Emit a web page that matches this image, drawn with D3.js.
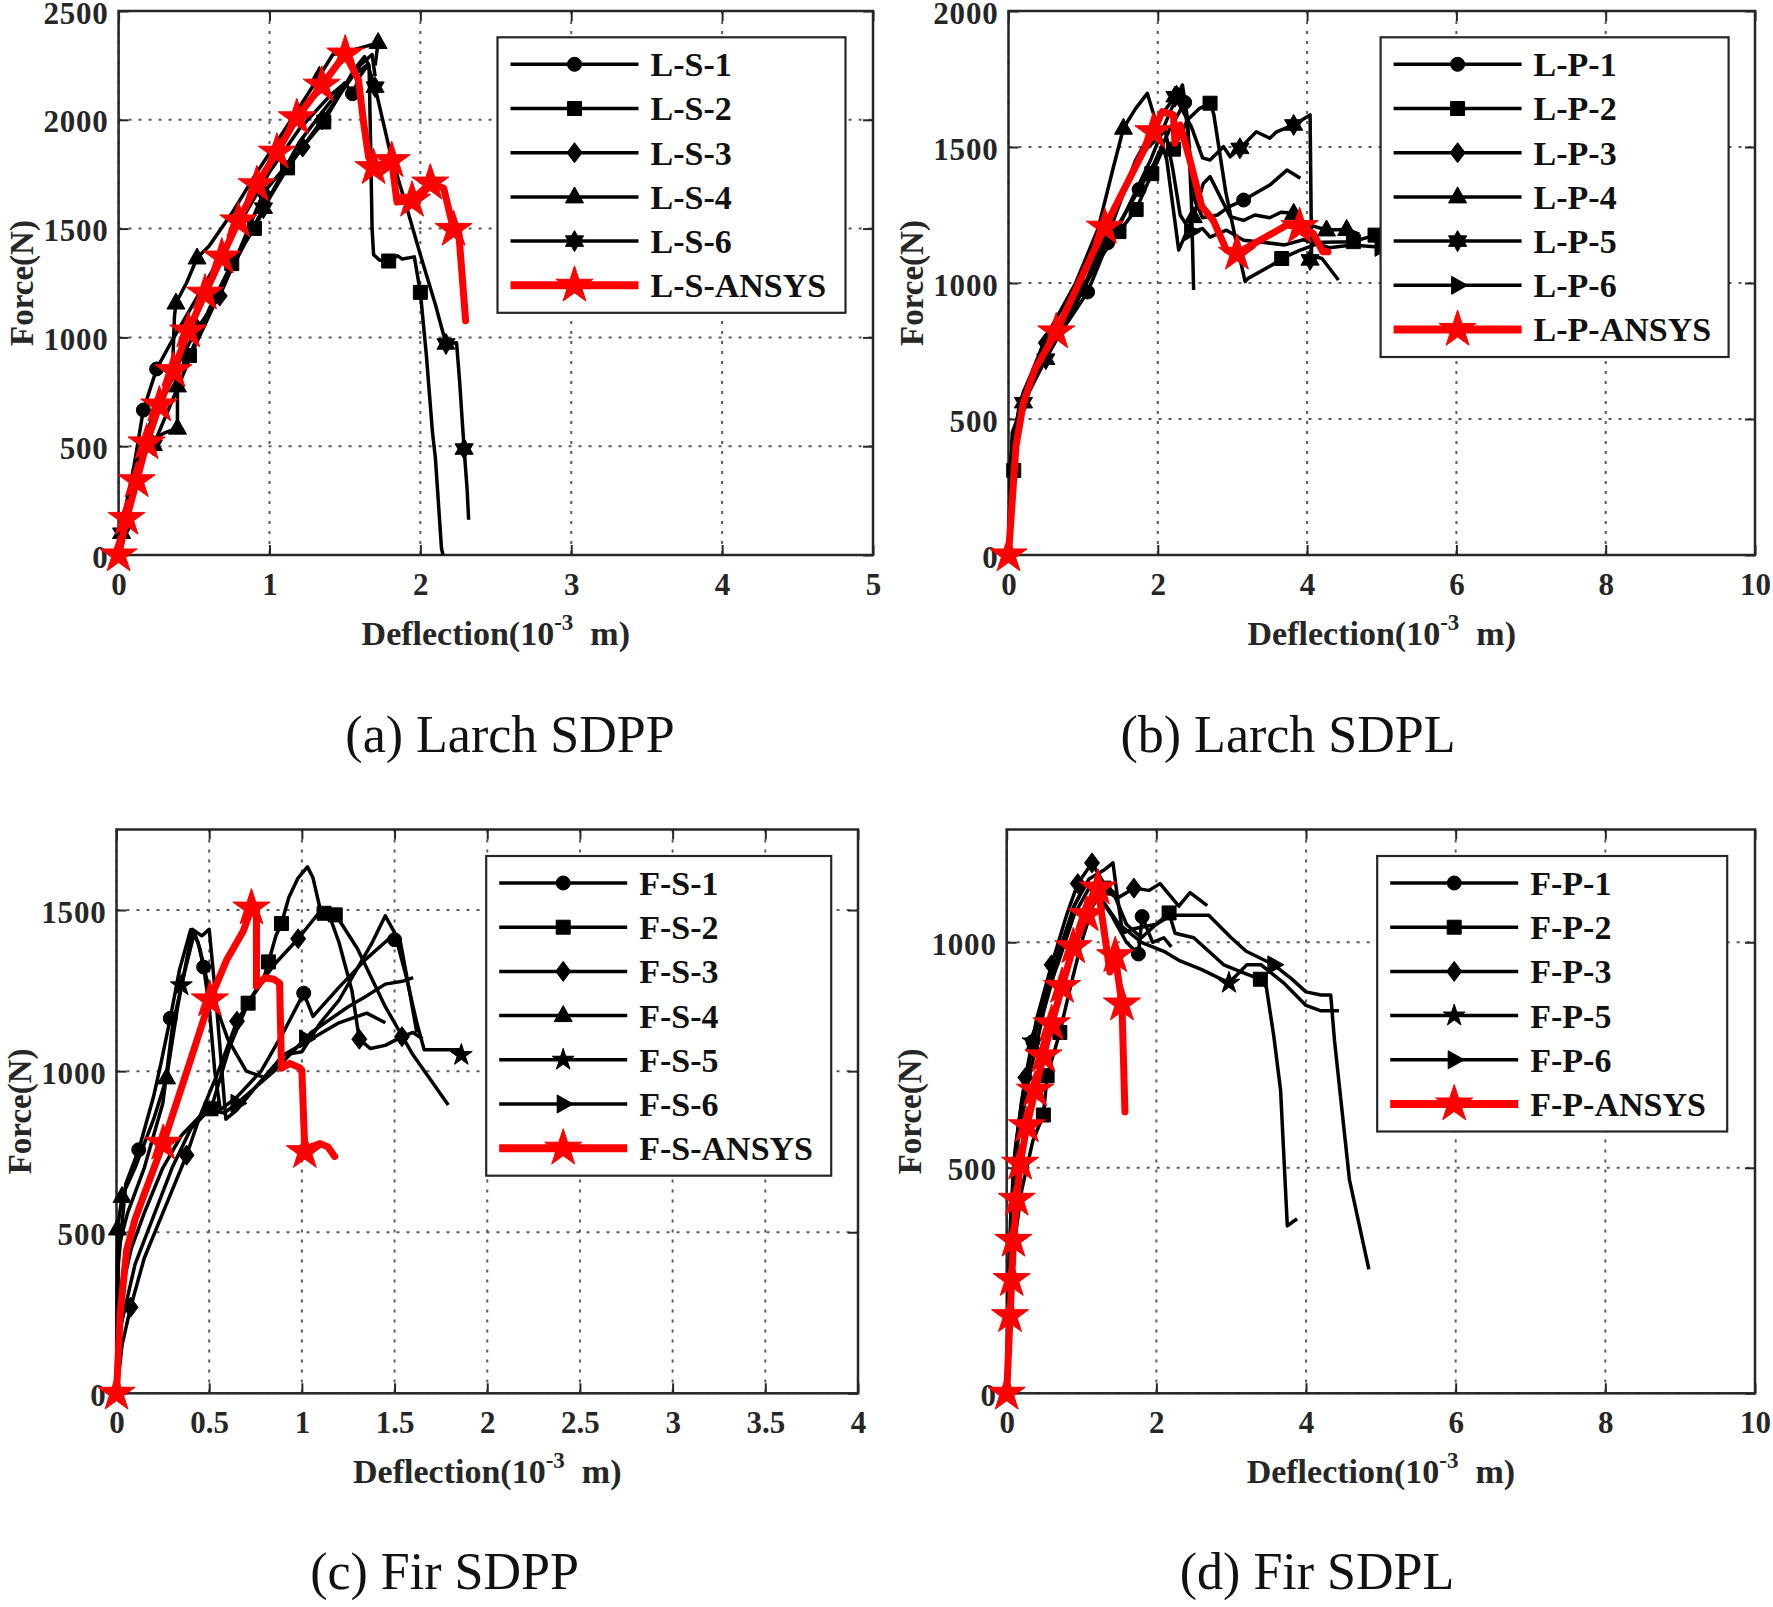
<!DOCTYPE html>
<html><head><meta charset="utf-8">
<script src="https://cdn.jsdelivr.net/npm/d3@7"></script>
<style>html,body{margin:0;padding:0;background:#fff;}svg{display:block;}</style>
</head><body>
<svg id="chart" width="1773" height="1607"></svg>
<script>
// ===================== DATA =====================
// (a) Larch SDPP
const LS1 = [[0,0],[0.04,150],[0.1,400],[0.164,666],[0.252,855],[0.35,980],[0.45,1100],[0.6,1280],[0.8,1520],[1.0,1760],[1.2,1960],[1.4,2110],[1.5,2170],[1.55,2120],[1.6,2200],[1.64,2240]];
const LS1_mk = [[0.164,666],[0.252,855],[1.55,2120]];
const LS2 = [[0,0],[0.05,180],[0.12,400],[0.2,590],[0.3,750],[0.38,830],[0.47,917],[0.6,1130],[0.75,1339],[0.9,1501],[1.0,1640],[1.12,1779],[1.25,1900],[1.36,1990],[1.47,2120],[1.56,2230],[1.63,2290],[1.66,2250],[1.67,1900],[1.68,1500],[1.69,1380],[1.73,1355],[1.79,1351],[1.85,1375],[1.88,1360],[1.96,1370],[2.0,1207],[2.04,917],[2.08,566],[2.10,443],[2.14,30],[2.15,0]];
const LS2_mk = [[0.47,917],[0.75,1339],[0.9,1501],[1.12,1779],[1.36,1990],[1.79,1351],[2.0,1207]];
const LS3 = [[0,0],[0.05,200],[0.12,430],[0.22,620],[0.35,820],[0.52,1040],[0.67,1190],[0.8,1400],[0.96,1664],[1.1,1780],[1.22,1875],[1.35,2000],[1.5,2150],[1.6,2250],[1.68,2300],[1.7,2200]];
const LS3_mk = [[0.52,1040],[0.67,1190],[0.96,1664],[1.22,1875],[1.35,2000]];
const LS4 = [[0,0],[0.04,200],[0.1,400],[0.2,520],[0.3,560],[0.39,583],[0.39,777],[0.36,900],[0.37,1093],[0.38,1158],[0.45,1250],[0.52,1365],[0.6,1420],[0.75,1570],[0.9,1740],[1.05,1900],[1.2,2060],[1.33,2200],[1.42,2300],[1.55,2320],[1.65,2340],[1.72,2355],[1.7,2250]];
const LS4_mk = [[0.39,583],[0.39,777],[0.38,1158],[0.52,1365],[1.33,2200],[1.72,2355]];
const LS6 = [[0,0],[0.02,100],[0.08,300],[0.15,450],[0.23,504],[0.35,700],[0.5,950],[0.7,1250],[0.96,1594],[1.2,1900],[1.4,2080],[1.55,2200],[1.65,2253],[1.7,2150],[1.8,1850],[1.9,1620],[2.0,1380],[2.1,1150],[2.17,970],[2.24,975],[2.26,800],[2.29,487],[2.31,300],[2.32,162]];
const LS6_mk = [[0.02,100],[0.23,504],[0.96,1594],[1.7,2150],[2.17,970],[2.29,487]];
const LSA = [[0,0],[0.053,168],[0.12,341],[0.186,515],[0.27,689],[0.363,847],[0.462,1029],[0.573,1203],[0.684,1369],[0.794,1535],[0.916,1701],[1.049,1851],[1.181,2009],[1.347,2159],[1.502,2302],[1.59,2183],[1.624,1986],[1.657,1828],[1.69,1780],[1.81,1812],[1.845,1622],[1.945,1630],[2.066,1709],[2.155,1685],[2.22,1496],[2.254,1488],[2.30,1077]];
const LSA_mk = [[0,0],[0.053,168],[0.12,341],[0.186,515],[0.27,689],[0.363,847],[0.462,1029],[0.573,1203],[0.684,1369],[0.794,1535],[0.916,1701],[1.049,1851],[1.181,2009],[1.347,2159],[1.502,2302],[1.69,1780],[1.81,1812],[1.945,1630],[2.066,1709],[2.22,1496]];

// (b) Larch SDPL
const LP1 = [[0,0],[0.04,300],[0.12,480],[0.3,620],[0.6,780],[0.85,880],[1.06,967],[1.33,1148],[1.55,1250],[1.75,1344],[1.95,1440],[2.15,1560],[2.36,1664],[2.42,1500],[2.5,1300],[2.6,1240],[2.8,1250],[2.95,1280],[3.15,1305],[3.5,1360],[3.73,1415],[3.91,1385]];
const LP1_mk = [[1.06,967],[1.33,1148],[1.75,1344],[2.36,1664],[3.15,1305]];
const LP2 = [[0,0],[0.07,311],[0.15,520],[0.4,680],[0.8,880],[1.2,1080],[1.48,1189],[1.71,1270],[1.92,1402],[2.05,1480],[2.21,1492],[2.4,1600],[2.55,1640],[2.70,1661],[2.75,1620],[2.91,1335],[3.04,1164],[3.17,1005],[3.21,1017],[3.53,1066],[3.66,1090],[3.9,1120],[4.2,1150],[4.62,1152],[4.91,1176]];
const LP2_mk = [[0.07,311],[1.48,1189],[1.71,1270],[1.92,1402],[2.21,1492],[2.70,1661],[3.66,1090],[4.62,1152],[4.91,1176]];
const LP3 = [[0,0],[0.05,420],[0.2,600],[0.5,780],[1.0,980],[1.5,1220],[1.9,1450],[2.15,1620],[2.33,1728],[2.4,1600],[2.45,1300],[2.48,974]];
const LP3_mk = [[0.5,780],[1.0,980],[2.25,1690]];
const LP4 = [[0,0],[0.03,350],[0.15,560],[0.5,800],[0.9,1000],[1.2,1200],[1.4,1420],[1.54,1569],[1.7,1640],[1.86,1697],[1.94,1624],[2.12,1452],[2.28,1121],[2.476,1244],[2.61,1366],[2.70,1391],[2.97,1244],[3.15,1230],[3.3,1250],[3.5,1240],[3.65,1260],[3.82,1256],[3.95,1220],[4.26,1195],[4.53,1197],[4.7,1180]];
const LP4_mk = [[1.54,1569],[2.476,1244],[3.82,1256],[4.26,1195],[4.53,1197]];
const LP5 = [[0,0],[0.05,450],[0.2,560],[0.5,720],[0.9,920],[1.3,1150],[1.7,1450],[2.0,1600],[2.23,1685],[2.45,1574],[2.6,1460],[2.70,1452],[2.88,1501],[2.97,1464],[3.10,1495],[3.32,1556],[3.50,1532],[3.59,1556],[3.82,1581],[4.04,1618],[4.06,1100],[4.2,1090],[4.42,1011]];
const LP5_mk = [[0.2,560],[0.5,720],[2.23,1685],[3.10,1495],[3.82,1581],[4.04,1085]];
const LP6 = [[0,0],[0.04,380],[0.2,580],[0.5,760],[1.0,980],[1.4,1250],[1.8,1480],[2.1,1560],[2.2,1420],[2.3,1250],[2.44,1189],[2.6,1200],[2.7,1169],[2.92,1194],[3.15,1157],[3.4,1150],[3.7,1140],[3.95,1159],[4.3,1130],[4.6,1140],[4.99,1131],[5.07,1115]];
const LP6_mk = [[2.44,1189],[4.99,1131]];
const LPA = [[0,0],[0.1,400],[0.2,560],[0.35,680],[0.64,820],[1.29,1205],[1.94,1556],[2.06,1630],[2.21,1618],[2.23,1514],[2.30,1581],[2.43,1452],[2.59,1281],[2.74,1232],[2.92,1121],[3.06,1109],[3.73,1213],[3.90,1207],[4.08,1183],[4.21,1115],[4.28,1115]];
const LPA_mk = [[0,0],[0.64,820],[1.29,1205],[1.94,1556],[3.06,1109],[3.90,1207]];

// (c) Fir SDPP
const FS1 = [[0,0],[0.01,400],[0.05,650],[0.12,756],[0.2,921],[0.24,1025],[0.29,1164],[0.34,1315],[0.4,1439],[0.44,1400],[0.47,1323],[0.5,1200],[0.53,1000],[0.56,880],[0.65,920],[0.78,1000],[0.9,1120],[1.01,1242],[1.06,1170],[1.2,1260],[1.35,1350],[1.47,1411],[1.53,1405],[1.58,1250],[1.62,1120]];
const FS1_mk = [[0.12,756],[0.29,1164],[0.47,1323],[1.01,1242],[1.5,1408]];
const FS2 = [[0,0],[0.02,300],[0.08,450],[0.15,560],[0.25,700],[0.35,800],[0.45,860],[0.51,883],[0.61,1075],[0.71,1211],[0.79,1280],[0.82,1339],[0.86,1420],[0.89,1458],[0.93,1540],[0.98,1600],[1.03,1634],[1.06,1600],[1.1,1500],[1.15,1490],[1.2,1470],[1.3,1380],[1.45,1200],[1.6,1050],[1.79,895]];
const FS2_mk = [[0.51,883],[0.71,1211],[0.82,1339],[0.89,1458],[1.12,1490],[1.18,1485]];
const FS3 = [[0,0],[0.03,150],[0.076,267],[0.15,420],[0.25,560],[0.378,739],[0.45,860],[0.55,1000],[0.65,1155],[0.75,1250],[0.85,1330],[0.98,1411],[1.09,1490],[1.15,1480],[1.2,1400],[1.27,1250],[1.31,1099],[1.37,1070],[1.45,1080],[1.54,1107],[1.6,1120],[1.65,1100]];
const FS3_mk = [[0.076,267],[0.378,739],[0.65,1155],[0.98,1411],[1.31,1099],[1.54,1107]];
const FS4 = [[0,0],[0.005,510],[0.03,611],[0.1,700],[0.2,850],[0.27,979],[0.33,1200],[0.38,1350],[0.41,1440],[0.46,1420],[0.5,1440],[0.54,1200],[0.59,851],[0.65,880],[0.75,950],[0.9,1050],[1.05,1100],[1.2,1150],[1.35,1180],[1.45,1150]];
const FS4_mk = [[0.005,510],[0.03,611],[0.27,979]];
const FS5 = [[0,0],[0.01,450],[0.06,560],[0.15,700],[0.25,900],[0.3,1130],[0.35,1266],[0.42,1430],[0.45,1380],[0.5,1250],[0.55,1180],[0.6,1100],[0.7,1000],[0.8,980],[0.9,1050],[1.0,1060],[1.1,1150],[1.2,1220],[1.3,1320],[1.38,1400],[1.45,1482],[1.5,1430],[1.56,1300],[1.62,1150],[1.66,1066],[1.86,1066]];
const FS5_mk = [[0.35,1266],[1.86,1050]];
const FS6 = [[0,0],[0.02,200],[0.1,400],[0.2,550],[0.3,700],[0.4,820],[0.5,880],[0.58,870],[0.65,900],[0.75,950],[0.85,1000],[0.95,1060],[1.05,1120],[1.15,1160],[1.25,1200],[1.34,1230],[1.45,1270],[1.55,1280],[1.6,1290]];
const FS6_mk = [[0.65,900],[1.02,1100]];
const FSA = [[0,0],[0.02,250],[0.055,445],[0.1,540],[0.145,611],[0.252,776],[0.38,1000],[0.504,1221],[0.595,1346],[0.684,1435],[0.728,1506],[0.755,1500],[0.755,1263],[0.80,1290],[0.85,1285],[0.88,1273],[0.89,1009],[0.935,1024],[0.99,1010],[1.0,1003],[1.016,750],[1.05,765],[1.1,775],[1.14,765],[1.177,735]];
const FSA_mk = [[0,0],[0.252,776],[0.504,1221],[0.728,1506],[1.016,750]];

// (d) Fir SDPL
const FP1 = [[0,0],[0.02,150],[0.05,350],[0.1,500],[0.2,640],[0.35,780],[0.5,880],[0.7,980],[0.9,1080],[1.05,1130],[1.2,1110],[1.4,1060],[1.6,1000],[1.76,974],[1.81,1057],[1.95,1000],[2.1,1010],[2.2,990]];
const FP1_mk = [[0.35,780],[1.76,974],[1.81,1057]];
const FP2 = [[0,0],[0.04,150],[0.1,330],[0.2,450],[0.35,560],[0.49,617],[0.54,704],[0.71,800],[0.85,900],[1.0,1000],[1.15,1080],[1.3,1120],[1.45,1100],[1.6,1040],[1.8,1010],[2.0,1040],[2.17,1065],[2.25,1020],[2.5,1010],[2.9,950],[3.2,930],[3.39,918],[3.47,900],[3.57,791],[3.66,672],[3.75,371],[3.88,387]];
const FP2_mk = [[0.49,617],[0.54,704],[0.71,800],[1.3,1120],[2.17,1065],[3.39,918]];
const FP3 = [[0,0],[0.02,200],[0.06,400],[0.12,550],[0.25,700],[0.4,830],[0.6,950],[0.8,1060],[0.95,1130],[1.14,1176],[1.3,1130],[1.5,1100],[1.7,1120],[1.9,1115],[2.05,1130],[2.3,1080],[2.45,1110],[2.68,1081]];
const FP3_mk = [[0.25,700],[0.6,950],[0.95,1130],[1.14,1176],[1.7,1120]];
const FP5 = [[0,0],[0.02,180],[0.05,380],[0.1,520],[0.2,650],[0.35,780],[0.5,870],[0.7,960],[0.9,1060],[1.1,1120],[1.25,1100],[1.5,1040],[1.8,1000],[2.1,980],[2.3,960],[2.6,940],[2.97,910],[3.21,950],[3.4,950],[3.7,910],[4.0,860],[4.2,848],[4.44,848]];
const FP5_mk = [[0.35,780],[2.97,910]];
const FP6 = [[0,0],[0.03,200],[0.08,420],[0.15,560],[0.3,700],[0.5,850],[0.7,970],[0.9,1080],[1.1,1140],[1.3,1160],[1.42,1176],[1.48,1100],[1.55,1020],[1.7,1030],[2.0,1040],[2.2,1060],[2.4,1060],[2.7,1060],[3.0,1010],[3.2,980],[3.57,950],[3.8,920],[4.0,890],[4.2,883],[4.33,883],[4.38,783],[4.58,474],[4.84,275]];
const FP6_mk = [[3.57,950]];
const FPA = [[0,0],[0.045,172],[0.067,252],[0.09,339],[0.134,430],[0.18,510],[0.27,593],[0.38,672],[0.49,748],[0.60,819],[0.74,902],[0.89,990],[1.07,1061],[1.22,1120],[1.38,934],[1.45,970],[1.54,863],[1.58,624]];
const FPA_mk = [[0,0],[0.045,172],[0.067,252],[0.09,339],[0.134,430],[0.18,510],[0.27,593],[0.38,672],[0.49,748],[0.60,819],[0.74,902],[0.89,990],[1.07,1061],[1.22,1120],[1.45,970],[1.54,863]];

// Tick values
const xTicksA = [0,1,2,3,4,5];
const yTicksA = [0,500,1000,1500,2000,2500];
const xTicksB = [0,2,4,6,8,10];
const yTicksB = [0,500,1000,1500,2000];
const xTicksC = [0,0.5,1,1.5,2,2.5,3,3.5,4];
const yTicksC = [0,500,1000,1500];
const xTicksD = [0,2,4,6,8,10];
const yTicksD = [0,500,1000];

// Legend names
const namesA = ["L-S-1","L-S-2","L-S-3","L-S-4","L-S-6","L-S-ANSYS"];
const namesB = ["L-P-1","L-P-2","L-P-3","L-P-4","L-P-5","L-P-6","L-P-ANSYS"];
const namesC = ["F-S-1","F-S-2","F-S-3","F-S-4","F-S-5","F-S-6","F-S-ANSYS"];
const namesD = ["F-P-1","F-P-2","F-P-3","F-P-5","F-P-6","F-P-ANSYS"];
const captions = ["(a) Larch SDPP","(b) Larch SDPL","(c) Fir SDPP","(d) Fir SDPL"];

// ===================== LAYOUT / STYLE =====================
const FONT = '"Liberation Serif","Times New Roman",Times,serif';
const AX = '#262626';
const RED = '#ff0000';

function star(n, R, r) {
  let s = '';
  for (let i = 0; i < 2*n; i++) {
    const a = -Math.PI/2 + i*Math.PI/n;
    const rr = (i % 2 === 0) ? R : r;
    s += (i === 0 ? 'M' : 'L') + (rr*Math.cos(a)).toFixed(2) + ',' + (rr*Math.sin(a)).toFixed(2);
  }
  return s + 'Z';
}
const SYM = {
  o: 'M7,0A7,7 0 1,1 -7,0A7,7 0 1,1 7,0Z',
  s: 'M-7,-7H7V7H-7Z',
  d: 'M0,-10L7.5,0L0,10L-7.5,0Z',
  '^': 'M0,-10L9,6L-9,6Z',
  '>': 'M10,0L-6,-9L-6,9Z',
  h: star(6, 10.5, 6.06),
  p: star(5, 11.5, 4.4),
  P: star(5, 19.5, 7.45)
};

const panels = [
  { L:118.6, R:873, T:11, B:555, xd:[0,5], yd:[0,2500], xt:xTicksA, yt:yTicksA,
    series:[[LS1,LS1_mk,'o'],[LS2,LS2_mk,'s'],[LS3,LS3_mk,'d'],[LS4,LS4_mk,'^'],[LS6,LS6_mk,'h'],[LSA,LSA_mk,'P']],
    names:namesA, leg:{x:497.5,y:37.3,w:348},
    cap:{x:510,y:752,t:captions[0]} },
  { L:1008.5, R:1755, T:11, B:555, xd:[0,10], yd:[0,2000], xt:xTicksB, yt:yTicksB,
    series:[[LP1,LP1_mk,'o'],[LP2,LP2_mk,'s'],[LP3,LP3_mk,'d'],[LP4,LP4_mk,'^'],[LP5,LP5_mk,'h'],[LP6,LP6_mk,'>'],[LPA,LPA_mk,'P']],
    names:namesB, leg:{x:1380.6,y:37.3,w:348},
    cap:{x:1288,y:752,t:captions[1]} },
  { L:116.5, R:858, T:829.5, B:1393.3, xd:[0,4], yd:[0,1750], xt:xTicksC, yt:yTicksC,
    series:[[FS1,FS1_mk,'o'],[FS2,FS2_mk,'s'],[FS3,FS3_mk,'d'],[FS4,FS4_mk,'^'],[FS5,FS5_mk,'p'],[FS6,FS6_mk,'>'],[FSA,FSA_mk,'P']],
    names:namesC, leg:{x:486.2,y:856,w:345},
    cap:{x:444.5,y:1589,t:captions[2]} },
  { L:1006.7, R:1755, T:829.5, B:1393.3, xd:[0,10], yd:[0,1250], xt:xTicksD, yt:yTicksD,
    series:[[FP1,FP1_mk,'o'],[FP2,FP2_mk,'s'],[FP3,FP3_mk,'d'],[FP5,FP5_mk,'p'],[FP6,FP6_mk,'>'],[FPA,FPA_mk,'P']],
    names:namesD, leg:{x:1377.2,y:856,w:350},
    cap:{x:1317,y:1589,t:captions[3]} }
];

const svg = d3.select('#chart');
svg.append('rect').attr('width',1773).attr('height',1607).attr('fill','#fff');

function styleAxis(sel, size) {
  sel.select('.domain').remove();
  sel.selectAll('line').attr('stroke', AX).attr('stroke-width', 2);
  sel.selectAll('text').attr('font-family', FONT).attr('font-weight','bold')
     .attr('font-size', size).attr('fill', AX);
}

panels.forEach(p => {
  const g = svg.append('g');
  const x = d3.scaleLinear().domain(p.xd).range([p.L, p.R]);
  const y = d3.scaleLinear().domain(p.yd).range([p.B, p.T]);

  // grid
  const grid = g.append('g').attr('stroke','#5a5a5a').attr('stroke-width',2).attr('stroke-dasharray','3,7');
  grid.selectAll('.gx').data(p.xt).join('line').attr('class','gx')
    .attr('x1', d => x(d)).attr('x2', d => x(d)).attr('y1', p.T).attr('y2', p.B);
  grid.selectAll('.gy').data(p.yt).join('line').attr('class','gy')
    .attr('x1', p.L).attr('x2', p.R).attr('y1', d => y(d)).attr('y2', d => y(d));

  // axes
  const fmt = d => String(d);
  g.append('g').attr('transform', `translate(0,${p.B})`)
    .call(d3.axisBottom(x).tickValues(p.xt).tickSize(-10).tickSizeOuter(0).tickPadding(18).tickFormat(fmt))
    .call(s => styleAxis(s, 31));
  g.append('g').attr('transform', `translate(0,${p.T})`)
    .call(d3.axisTop(x).tickValues(p.xt).tickSize(-10).tickSizeOuter(0).tickFormat(() => ''))
    .call(s => styleAxis(s, 31));
  const yl = g.append('g').attr('transform', `translate(${p.L},0)`)
    .call(d3.axisLeft(y).tickValues(p.yt).tickSize(-10).tickSizeOuter(0).tickPadding(10).tickFormat(fmt))
    .call(s => styleAxis(s, 31));
  yl.selectAll('text').attr('dy', '0.39em').attr('letter-spacing', 0.8);
  g.append('g').attr('transform', `translate(${p.R},0)`)
    .call(d3.axisRight(y).tickValues(p.yt).tickSize(-10).tickSizeOuter(0).tickFormat(() => ''))
    .call(s => styleAxis(s, 31));

  g.append('rect').attr('x', p.L).attr('y', p.T).attr('width', p.R - p.L).attr('height', p.B - p.T)
    .attr('fill','none').attr('stroke', AX).attr('stroke-width', 2.5);

  // axis labels
  const xl = g.append('text').attr('x', (p.L + p.R)/2).attr('y', p.B + 90)
    .attr('text-anchor','middle').attr('font-family', FONT).attr('font-weight','bold')
    .attr('font-size', 34).attr('fill', AX);
  xl.append('tspan').text('Deflection(10');
  xl.append('tspan').attr('dy', -15).attr('font-size', 23).text('-3');
  xl.append('tspan').attr('dy', 15).text('\u00a0 m)');
  g.append('text').attr('transform', `translate(${p.L - 86},${(p.T + p.B)/2}) rotate(-90)`)
    .attr('text-anchor','middle').attr('font-family', FONT).attr('font-weight','bold')
    .attr('font-size', 33).attr('fill', AX).text('Force(N)');

  // series
  const line = d3.line().x(d => x(d[0])).y(d => y(d[1]));
  p.series.forEach(([pts, mks, sym]) => {
    const red = sym === 'P';
    g.append('path').attr('d', line(pts)).attr('fill','none')
      .attr('stroke', red ? RED : '#000').attr('stroke-width', red ? 7 : 3.5)
      .attr('stroke-linejoin','round').attr('stroke-linecap', red ? 'round' : 'butt');
    g.selectAll(null).data(mks).join('path')
      .attr('d', SYM[sym]).attr('transform', d => `translate(${x(d[0])},${y(d[1])})`)
      .attr('fill', red ? RED : '#000').attr('stroke', red ? RED : '#000').attr('stroke-width', 1);
  });

  // legend
  const n = p.names.length;
  const lg = g.append('g').attr('transform', `translate(${p.leg.x},${p.leg.y})`);
  lg.append('rect').attr('width', p.leg.w).attr('height', 27 + (n - 1)*44.2 + 27.5)
    .attr('fill','#fff').attr('stroke', AX).attr('stroke-width', 2.2);
  p.names.forEach((nm, i) => {
    const sym = p.series[i][2];
    const red = sym === 'P';
    const cy = 27 + i*44.2;
    lg.append('line').attr('x1', 13).attr('x2', 141).attr('y1', cy).attr('y2', cy)
      .attr('stroke', red ? RED : '#000').attr('stroke-width', red ? 8 : 3.5);
    lg.append('path').attr('d', SYM[sym]).attr('transform', `translate(77,${cy})`)
      .attr('fill', red ? RED : '#000').attr('stroke', red ? RED : '#000').attr('stroke-width', 1);
    lg.append('text').attr('x', 153).attr('y', cy + 12).attr('font-family', FONT)
      .attr('font-weight','bold').attr('font-size', 34).attr('fill', '#111').text(nm);
  });

  // caption
  svg.append('text').attr('x', p.cap.x).attr('y', p.cap.y).attr('text-anchor','middle')
    .attr('font-family', FONT).attr('font-size', 52).attr('fill','#111').text(p.cap.t);
});
</script>
</body></html>
